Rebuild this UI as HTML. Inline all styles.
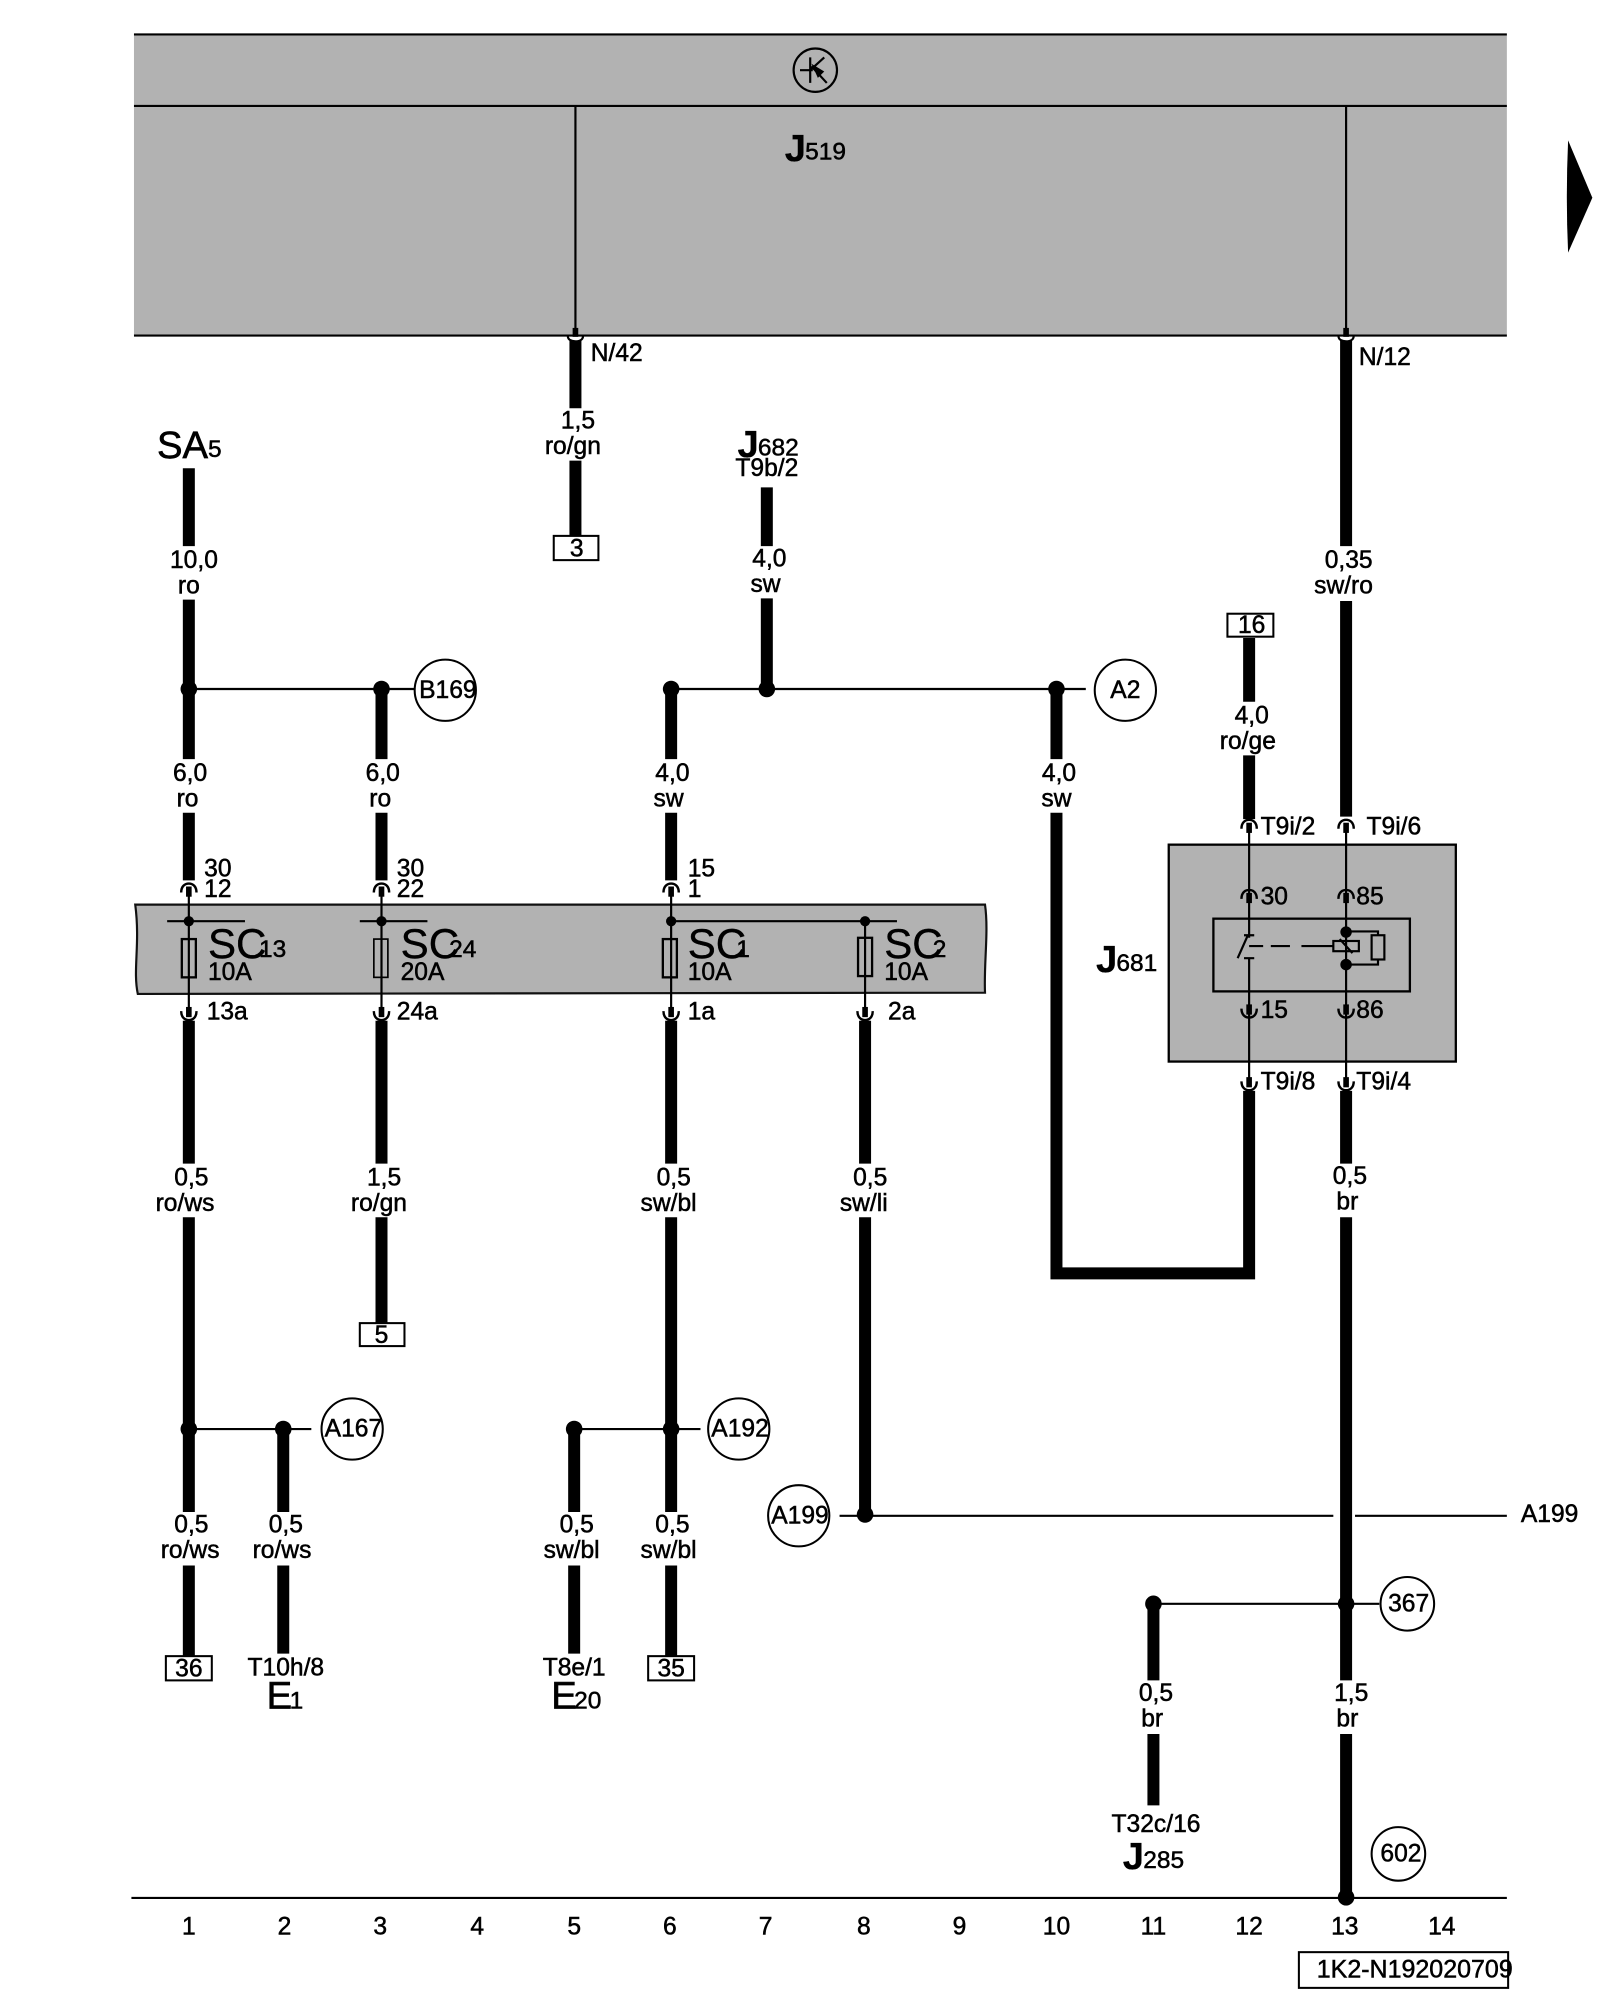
<!DOCTYPE html>
<html><head><meta charset="utf-8"><style>
html,body{margin:0;padding:0;background:#fff}
svg{display:block}
text{font-family:"Liberation Sans",sans-serif;font-size:19.3px;fill:#000;stroke:#000;stroke-width:.4}
.m text,text.m{text-anchor:middle}
.big{font-size:30px;stroke-width:.5}
.j{font-size:30px;font-weight:bold;stroke-width:.2}
.sub{font-size:19.2px}
.sc{font-size:33px;stroke-width:.3}
.w{stroke:#000;stroke-width:9.4;fill:none}
.t{stroke:#000;stroke-width:1.7;fill:none}
.c{stroke:#000;stroke-width:1.6;fill:#fff}
</style></head><body>
<svg width="1600" height="2000" viewBox="0 0 1254 1567.5" xmlns="http://www.w3.org/2000/svg">
<defs>
<g id="up"><path d="M-6 7.500C-6 2.500 -3 .5 0 .5C3 .5 6 2.500 6 7.500" fill="none" stroke="#000" stroke-width="1.900"/><rect x="-2.200" y="2.800" width="4.400" height="8"/></g>
<g id="dn"><path d="M-6 -7.500C-6 -2.500 -3 -.5 0 -.5C3 -.5 6 -2.500 6 -7.500" fill="none" stroke="#000" stroke-width="1.900"/><rect x="-2.200" y="-10.800" width="4.400" height="8"/></g>
<g id="nn"><path d="M-6 -5C-6 -1.500 -3 -.5 0 -.5C3 -.5 6 -1.500 6 -5Z" fill="#fff" stroke="#000" stroke-width="1.700"/><rect x="-2.200" y="-11" width="4.400" height="7"/></g>
</defs>
<rect width="1254" height="1567.5" fill="#fff"/>
<!-- top module -->
<rect x="105" y="27" width="1076" height="236" fill="#b2b2b2"/>
<path class="t" d="M105 27H1181M105 83H1181M105 263H1181M451 83V262M1055 83V262"/>
<circle class="t" cx="639" cy="55" r="17"/>
<path class="t" d="M627 55H637M635 45V65M635 55L646 45M636 52L648 65"/>
<path d="M636 50L646 56L641 61Z"/>
<path d="M1229 110L1248 155L1229 198Q1227 155 1229 110Z"/>
<text class="j" x="615" y="126">J</text><text class="sub" x="631" y="125">519</text>
<!-- fuse band -->
<path d="M106 709H772C775 730 771 755 772 778L108 779C104 760 110 740 106 709Z" fill="#b2b2b2" stroke="#111" stroke-width="1.700"/>
<!-- J681 -->
<rect x="916" y="662" width="225" height="170" fill="#b2b2b2" stroke="#000" stroke-width="1.800"/>
<rect x="951" y="720" width="154" height="57" fill="none" stroke="#000" stroke-width="1.800"/>
<!-- thick wires -->
<path class="w" d="M451 267V320M451 361V420M1055 267V428M1055 471V640M148 367V428M148 470V595M148 637V690M148 800V912M148 954V1185M148 1227V1298M299 540V595M299 637V690M299 800V912M299 954V1037M526 540V595M526 637V690M526 800V912M526 954V1185M526 1227V1298M601 382V428M601 469V540M828 540V595M828 637V998H979V855M979 500V550M979 592V642M1055 855V912M1055 954V1317M1055 1359V1487M678 800V912M678 954V1187M222 1120V1185M222 1227V1296M450 1120V1185M450 1227V1296M904 1257V1317M904 1359V1415"/>
<!-- thin wires -->
<path class="t" d="M148 540H325M526 540H851M148 1120H244M450 1120H549M658 1188H1045M1062 1188H1181M904 1257H1081M103 1487.500H1181"/>
<path class="t" d="M148 695V795M299 695V795M526 695V795M678 722V795M979 650V735M1055 650V795M979 751V850M1055 795V850"/>
<path class="t" stroke-width="2" d="M131 722H192M282 722H335M526 722H703"/>
<!-- fuses -->
<g fill="none" stroke="#000" stroke-width="1.800">
<rect x="142.500" y="736" width="11" height="30"/><rect x="293" y="736" width="11" height="30" stroke-width="1.300"/><rect x="519.500" y="736" width="11" height="30"/><rect x="672.500" y="735" width="11" height="30"/>
</g>
<!-- relay -->
<path class="t" d="M975 733H983M978 733L970 751M975 751H983M1055 730H1080V733M1055 756H1080V752"/>
<path class="t" d="M979 741.500H990M996 741.500H1011M1020 741.500H1045"/>
<rect class="t" x="1045" y="737.500" width="20" height="8"/><path class="t" d="M1050 736L1060 747"/>
<rect class="t" x="1075" y="733" width="10" height="19"/>
<circle cx="1055" cy="730.500" r="4.500"/><circle cx="1055" cy="756" r="4.500"/>
<!-- dots -->
<circle cx="148" cy="540" r="6.500"/><circle cx="299" cy="540" r="6.500"/><circle cx="526" cy="540" r="6.500"/><circle cx="601" cy="540" r="6.500"/><circle cx="828" cy="540" r="6.500"/>
<circle cx="148" cy="1120" r="6.500"/><circle cx="222" cy="1120" r="6.500"/><circle cx="450" cy="1120" r="6.500"/><circle cx="526" cy="1120" r="6.500"/>
<circle cx="678" cy="1187" r="6.500"/><circle cx="904" cy="1257" r="6.500"/><circle cx="1055" cy="1257" r="6.500"/><circle cx="1055" cy="1487" r="6.500"/>
<circle cx="148" cy="722" r="4"/><circle cx="299" cy="722" r="4"/><circle cx="526" cy="722" r="4"/><circle cx="678" cy="722" r="4"/>
<!-- pin symbols -->
<use href="#up" x="148" y="692"/><use href="#up" x="299" y="692"/><use href="#up" x="526" y="692"/>
<use href="#up" x="979" y="642"/><use href="#up" x="1055" y="642"/><use href="#up" x="979" y="697"/><use href="#up" x="1055" y="697"/>
<use href="#dn" x="148" y="800"/><use href="#dn" x="299" y="800"/><use href="#dn" x="526" y="800"/><use href="#dn" x="678" y="800"/>
<use href="#dn" x="979" y="798"/><use href="#dn" x="1055" y="798"/><use href="#dn" x="979" y="855"/><use href="#dn" x="1055" y="855"/>
<use href="#nn" x="451" y="268"/><use href="#nn" x="1055" y="268"/>
<!-- circles and boxes -->
<circle class="c" cx="349" cy="541" r="24"/><circle class="c" cx="882" cy="541" r="24"/><circle class="c" cx="276" cy="1120" r="24"/><circle class="c" cx="579" cy="1120" r="24"/><circle class="c" cx="626" cy="1188" r="24"/><circle class="c" cx="1103" cy="1257" r="21"/><circle class="c" cx="1096" cy="1453" r="21"/>
<rect class="c" x="434" y="420" width="35" height="19"/><rect class="c" x="282" y="1037" width="35" height="18"/><rect class="c" x="962" y="481" width="36" height="18"/><rect class="c" x="130" y="1298" width="36" height="19"/><rect class="c" x="508" y="1298" width="36" height="19"/>
<rect class="c" x="1018" y="1530" width="164" height="28"/>
<!-- wire labels -->
<g class="m">
<text x="453" y="336">1,5</text><text x="449" y="356">ro/gn</text>
<text x="1057" y="445">0,35</text><text x="1053" y="465">sw/ro</text>
<text x="603" y="444">4,0</text><text x="600" y="464">sw</text>
<text x="601" y="373">T9b/2</text>
<text x="152" y="445">10,0</text><text x="148" y="465">ro</text>
<text x="351" y="547">B169</text><text x="882" y="547">A2</text>
<text x="981" y="567">4,0</text><text x="978" y="587">ro/ge</text>
<text x="149" y="612">6,0</text><text x="147" y="632">ro</text>
<text x="300" y="612">6,0</text><text x="298" y="632">ro</text>
<text x="527" y="612">4,0</text><text x="524" y="632">sw</text>
<text x="830" y="612">4,0</text><text x="828" y="632">sw</text>
<text x="150" y="929">0,5</text><text x="145" y="949">ro/ws</text>
<text x="301" y="929">1,5</text><text x="297" y="949">ro/gn</text>
<text x="528" y="929">0,5</text><text x="524" y="949">sw/bl</text>
<text x="682" y="929">0,5</text><text x="677" y="949">sw/li</text>
<text x="1058" y="928">0,5</text><text x="1056" y="948">br</text>
<text x="452" y="436">3</text><text x="299" y="1052.500">5</text><text x="981" y="496">16</text><text x="148" y="1314">36</text><text x="526" y="1314">35</text>
<text x="277" y="1126">A167</text><text x="580" y="1126">A192</text><text x="627" y="1194">A199</text><text x="1104" y="1263">367</text><text x="1098" y="1459">602</text>
<text x="150" y="1201">0,5</text><text x="149" y="1221">ro/ws</text>
<text x="224" y="1201">0,5</text><text x="221" y="1221">ro/ws</text>
<text x="452" y="1201">0,5</text><text x="448" y="1221">sw/bl</text>
<text x="527" y="1201">0,5</text><text x="524" y="1221">sw/bl</text>
<text x="224" y="1313">T10h/8</text><text x="450" y="1313">T8e/1</text>
<text x="906" y="1333">0,5</text><text x="903" y="1353">br</text>
<text x="1059" y="1333">1,5</text><text x="1056" y="1353">br</text>
<text x="906" y="1436">T32c/16</text>
<text x="148" y="1516">1</text><text x="223" y="1516">2</text><text x="298" y="1516">3</text><text x="374" y="1516">4</text><text x="450" y="1516">5</text><text x="525" y="1516">6</text><text x="600" y="1516">7</text><text x="677" y="1516">8</text><text x="752" y="1516">9</text><text x="828" y="1516">10</text><text x="904" y="1516">11</text><text x="979" y="1516">12</text><text x="1054" y="1516">13</text><text x="1130" y="1516">14</text>
</g>
<!-- start-anchored labels -->
<text x="463" y="283">N/42</text><text x="1065" y="286">N/12</text>
<text x="988" y="654">T9i/2</text><text x="1071" y="654">T9i/6</text>
<text x="160" y="687">30</text><text x="160" y="703">12</text><text x="311" y="687">30</text><text x="311" y="703">22</text><text x="539" y="687">15</text><text x="539" y="703">1</text>
<text x="988" y="709">30</text><text x="1063" y="709">85</text><text x="988" y="798">15</text><text x="1063" y="798">86</text>
<text x="988" y="854">T9i/8</text><text x="1063" y="854">T9i/4</text>
<text x="162" y="799">13a</text><text x="311" y="799">24a</text><text x="539" y="799">1a</text><text x="696" y="799">2a</text>
<text x="1192" y="1193">A199</text>
<text x="1032" y="1550" style="font-size:19.600px">1K2-N192020709</text>
<!-- component names -->
<text class="big" x="123" y="359">SA</text><text class="sub" x="163" y="358">5</text>
<text class="j" x="578" y="358">J</text><text class="sub" x="594" y="357">682</text>
<text class="j" x="859" y="762">J</text><text class="sub" x="875" y="761">681</text>
<text class="j" x="880" y="1465">J</text><text class="sub" x="896" y="1464">285</text>
<text class="big" x="209" y="1339">E</text><text class="sub" x="227" y="1339">1</text>
<text class="big" x="432" y="1339">E</text><text class="sub" x="450" y="1339">20</text>
<text class="sc" x="163" y="751">SC</text><text class="sub" x="203" y="750">13</text><text x="163" y="768">10A</text>
<text class="sc" x="314" y="751">SC</text><text class="sub" x="352" y="750">24</text><text x="314" y="768">20A</text>
<text class="sc" x="539" y="751">SC</text><text class="sub" x="577" y="750">1</text><text x="539" y="768">10A</text>
<text class="sc" x="693" y="751">SC</text><text class="sub" x="731" y="750">2</text><text x="693" y="768">10A</text>
</svg>
</body></html>
